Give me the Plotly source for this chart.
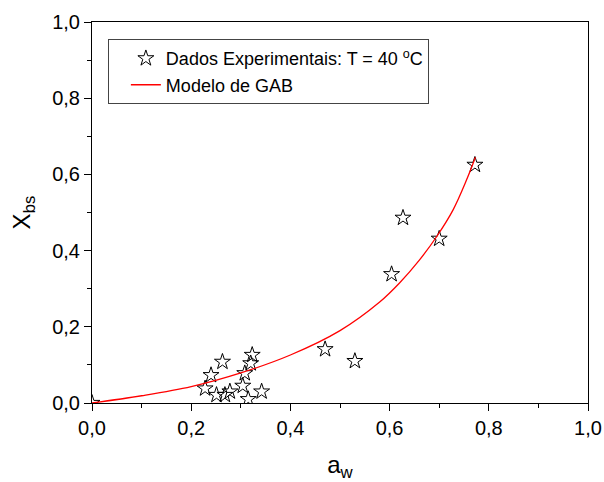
import plotly.graph_objects as go

aw_exp = [0.0, 0.228, 0.240, 0.251, 0.263, 0.268, 0.278, 0.304, 0.308, 0.315,
          0.320, 0.323, 0.342, 0.470, 0.530, 0.604, 0.627, 0.700, 0.772]
x_exp = [0.0, 0.038, 0.073, 0.021, 0.108, 0.021, 0.030, 0.045, 0.078, 0.010,
         0.104, 0.126, 0.030, 0.141, 0.110, 0.338, 0.486, 0.431, 0.625]

# GAB model curve
aw_gab = [0.0, 0.1, 0.2, 0.3, 0.4, 0.5, 0.58, 0.62, 0.66, 0.695, 0.728, 0.755, 0.773]
x_gab = [0.0, 0.019, 0.043, 0.079, 0.126, 0.19, 0.265, 0.315, 0.375, 0.437, 0.507, 0.585, 0.645]

tick_vals = [0.0, 0.2, 0.4, 0.6, 0.8, 1.0]

FONT = "Liberation Sans, Arial, sans-serif"

fig = go.Figure()
fig.add_trace(go.Scatter(
    x=aw_exp, y=x_exp, mode="markers",
    name="Dados Experimentais: T = 40 <sup>o</sup>C",
    marker=dict(symbol="star-open", size=12, color="black", line=dict(width=1, color="black")),
))
fig.add_trace(go.Scatter(
    x=aw_gab, y=x_gab, mode="lines", name="Modelo de GAB",
    line=dict(color="red", width=1.3, shape="spline"),
))

axis_common = dict(
    range=[0, 1], tickvals=tick_vals, tickformat=".1f",
    showgrid=False, zeroline=False, automargin=False,
    showline=True, linecolor="black", linewidth=1, mirror=True,
    ticks="outside", ticklen=7, tickwidth=1, tickcolor="black",
    minor=dict(dtick=0.1, ticks="outside", ticklen=4, tickwidth=1, tickcolor="black", showgrid=False),
    tickfont=dict(size=20, color="black", family=FONT),
)

fig.update_xaxes(**axis_common, title=dict(text="a<sub>w</sub>", font=dict(size=24, color="black", family=FONT), standoff=20))
fig.update_yaxes(**axis_common, title=dict(text="X<sub>bs</sub>", font=dict(size=24, color="black", family=FONT), standoff=14))

fig.update_layout(
    width=604, height=482,
    margin=dict(l=92, r=16, t=22, b=79),
    paper_bgcolor="white", plot_bgcolor="white",
    separators=",.",
    font=dict(family=FONT, color="black"),
    legend=dict(
        x=0.032, y=0.955, xanchor="left", yanchor="top",
        bgcolor="white", bordercolor="#444", borderwidth=1,
        font=dict(size=18, color="black", family=FONT),
        indentation=17, tracegroupgap=0,
        entrywidth=272, entrywidthmode="pixels",
    ),
    showlegend=True,
)

fig.write_html("out.html")
